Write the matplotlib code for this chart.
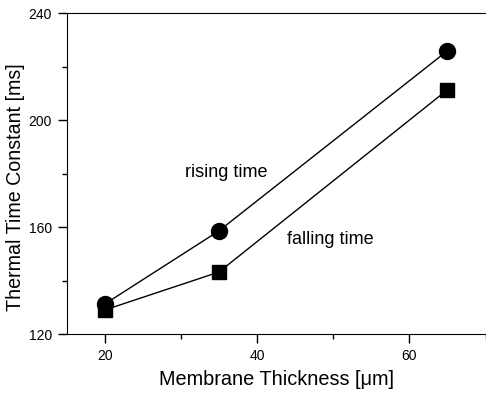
import matplotlib
matplotlib.use("Agg")
import matplotlib.pyplot as plt
from matplotlib.ticker import MultipleLocator

plt.rcParams['font.family'] = ['Liberation Sans', 'DejaVu Sans']

thickness = [20, 35, 65]
rising = [131.2, 158.6, 226.0]
falling = [129.0, 143.2, 211.4]

fig = plt.figure(figsize=(4.86, 3.93), dpi=100)
ax = fig.add_axes([0.137, 0.150, 0.862, 0.816])

ax.plot(thickness, falling, color='black', lw=1.0, marker='s', ms=10, mfc='black', mec='black', zorder=3)
ax.plot(thickness, rising, color='black', lw=1.0, marker='o', ms=11.5, mfc='black', mec='black', zorder=4)

ax.text(30.5, 180.6, 'rising time', fontsize=13, va='center', ha='left')
ax.text(43.9, 155.4, 'falling time', fontsize=13, va='center', ha='left')

ax.set_xlim(15, 70)
ax.set_ylim(120, 240)
ax.xaxis.set_major_locator(MultipleLocator(20))
ax.xaxis.set_minor_locator(MultipleLocator(10))
ax.yaxis.set_major_locator(MultipleLocator(40))
ax.yaxis.set_minor_locator(MultipleLocator(20))
ax.tick_params(which='major', direction='out', length=6.5, width=1, labelsize=10, pad=4)
ax.tick_params(which='minor', direction='out', length=3.5, width=1)
ax.spines['right'].set_visible(False)
ax.spines['top'].set_linewidth(0.8)

ax.set_xlabel('Membrane Thickness [\u03bcm]', fontsize=14.3, labelpad=5)
ax.set_ylabel('Thermal Time Constant [ms]', fontsize=14.1)
ax.yaxis.set_label_coords(-0.1, 0.459)

fig.savefig('out.png', dpi=100)
